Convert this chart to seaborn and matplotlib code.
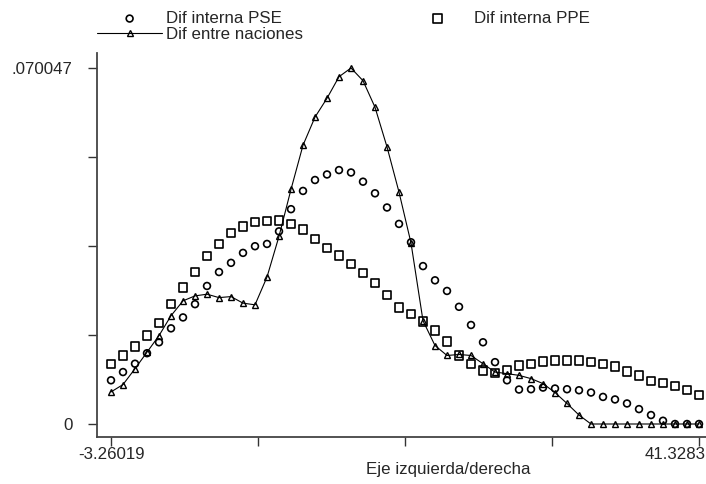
import numpy as np
import pandas as pd
import matplotlib
matplotlib.use("Agg")
import matplotlib.pyplot as plt
import seaborn as sns
from matplotlib.transforms import ScaledTranslation

# Evaluation grid of the density estimates (50 points between the extremes)
x_min, x_max = -3.26019, 41.3283
y_max = 0.070047
eje = np.linspace(x_min, x_max, 50)

# Density values (x 1e-3)
pse = [8.60, 10.22, 11.86, 13.93, 16.08, 18.82, 20.97, 23.58, 27.16, 29.90,
       31.71, 33.67, 34.98, 35.43, 37.91, 42.27, 45.86, 48.01, 49.10, 49.96,
       49.49, 47.68, 45.39, 42.60, 39.37, 35.76, 31.07, 28.27, 26.18, 23.06,
       19.48, 16.08, 12.17, 8.60, 6.78, 6.84, 7.17, 6.98, 6.84, 6.64,
       6.19, 5.33, 4.83, 4.04, 2.93, 1.76, 0.64, 0.0, 0.0, 0.0]
ppe = [11.86, 13.48, 15.24, 17.39, 19.87, 23.58, 26.83, 29.90, 33.02, 35.43,
       37.58, 38.88, 39.72, 40.00, 40.06, 39.33, 38.24, 36.40, 34.64, 33.16,
       31.52, 29.76, 27.69, 25.34, 22.92, 21.63, 20.18, 18.37, 16.22, 13.48,
       11.86, 10.55, 10.02, 10.69, 11.53, 11.86, 12.31, 12.51, 12.51, 12.51,
       12.17, 11.86, 11.33, 10.36, 9.57, 8.46, 8.07, 7.43, 6.64, 5.67]
entre = [6.31, 7.76, 10.88, 14.13, 17.39, 21.30, 24.23, 25.21, 25.54, 24.87,
         25.07, 23.78, 23.45, 28.92, 36.93, 46.17, 54.85, 60.38, 64.09, 68.33,
         70.047, 67.55, 62.33, 54.52, 45.63, 35.62, 20.32, 15.44, 13.48, 13.68,
         13.48, 11.86, 10.22, 9.91, 9.57, 8.93, 7.95, 6.19, 4.04, 1.76,
         0.0, 0.0, 0.0, 0.0, 0.0, 0.0, 0.0, 0.0, 0.0, 0.0]

x_tick_labels = ["-3.26019", "", "", "", "41.3283"]
y_tick_labels = ["0", "", "", "", ".070047"]

df = pd.DataFrame({
    "eje": eje,
    "pse": np.array(pse) * 1e-3,
    "ppe": np.array(ppe) * 1e-3,
    "entre": np.array(entre) * 1e-3,
})

FS = 12.2

sns.set_style("white")
plt.rcParams["font.family"] = ["Liberation Sans", "DejaVu Sans"]
plt.rcParams["font.size"] = FS

fig = plt.figure(figsize=(7.06, 4.84), dpi=100)
ax = fig.add_axes([97 / 706, 1 - 437 / 484, 609 / 706, 384 / 484])

sns.scatterplot(data=df, x="eje", y="pse", ax=ax, marker="o", s=24,
                facecolor="none", edgecolor="black", linewidth=1.2,
                label="Dif interna PSE", zorder=3)
sns.scatterplot(data=df, x="eje", y="ppe", ax=ax, marker="s", s=36,
                facecolor="none", edgecolor="black", linewidth=1.2,
                label="Dif interna PPE", zorder=3)
sns.lineplot(data=df, x="eje", y="entre", ax=ax, color="black", linewidth=0.8,
             marker="^", markersize=5, markerfacecolor="none",
             markeredgecolor="black", markeredgewidth=1.0,
             label="Dif entre naciones", zorder=4)

ax.set_xlim(-4.322, 41.859)
ax.set_ylim(-0.002558, 0.0730)

ax.set_xticks(np.linspace(x_min, x_max, 5))
ax.set_xticklabels(x_tick_labels)
ax.set_yticks(np.linspace(0, y_max, 5))
ax.set_yticklabels(y_tick_labels)
ax.tick_params(axis="x", direction="out", length=6.5, width=1.0, color="#333333",
               pad=0.5, labelsize=FS, bottom=True)
ax.tick_params(axis="y", direction="out", length=6.5, width=1.0, color="#333333",
               pad=11, labelsize=FS, left=True)

# keep the right-hand tick label inside the canvas
last = ax.get_xticklabels()[-1]
last.set_horizontalalignment("right")
last.set_transform(last.get_transform() + ScaledTranslation(0.07, 0, fig.dpi_scale_trans))

for side in ("top", "right"):
    ax.spines[side].set_visible(False)
for side in ("left", "bottom"):
    ax.spines[side].set_color("#444444")
    ax.spines[side].set_linewidth(1.3)

ax.set_xlabel("Eje izquierda/derecha", fontsize=FS)
ax.xaxis.set_label_coords(0.577, -0.066)
ax.set_ylabel("")

handles, labels = ax.get_legend_handles_labels()
order = [labels.index("Dif interna PSE"), labels.index("Dif entre naciones"),
         labels.index("Dif interna PPE")]
ax.legend([handles[i] for i in order], [labels[i] for i in order],
          ncol=2, loc="upper left", bbox_to_anchor=(97 / 706, 1 - 11 / 484),
          bbox_transform=fig.transFigure, frameon=False, fontsize=FS,
          handlelength=3.85, handletextpad=0.24, columnspacing=6.0,
          labelspacing=0.07, borderpad=0, borderaxespad=0)

fig.savefig("out.png", dpi=100, facecolor="white")
